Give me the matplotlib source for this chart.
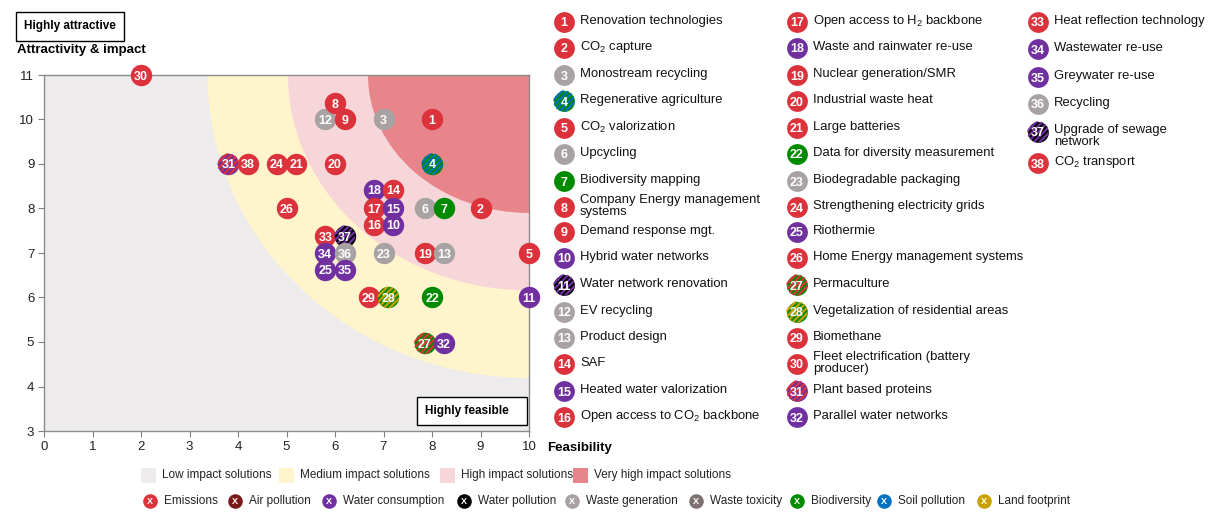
import numpy as np
import matplotlib.pyplot as plt
from matplotlib.patches import Ellipse, Rectangle, Circle
from matplotlib.lines import Line2D
from matplotlib.transforms import ScaledTranslation

plt.rcParams['font.family'] = ['Liberation Sans', 'DejaVu Sans']
plt.rcParams['mathtext.fontset'] = 'custom'
plt.rcParams['mathtext.rm'] = 'Liberation Sans'
plt.rcParams['mathtext.bf'] = 'Liberation Sans:bold'

RED = '#DC323C'
DARKRED = '#7B1A1A'
PURPLE = '#7030A0'
BLACK = '#000000'
GREY = '#A8A2A2'
TOXIC = '#7F7171'
GREEN = '#008A00'
BLUE = '#0070C0'
GOLD = '#C9A000'

# --- data ---
solutions = ['Renovation technologies', 'CO$_2$ capture', 'Monostream recycling', 'Regenerative agriculture',
             'CO$_2$ valorization', 'Upcycling', 'Biodiversity mapping', 'Company Energy management\nsystems',
             'Demand response mgt.', 'Hybrid water networks', 'Water network renovation', 'EV recycling',
             'Product design', 'SAF', 'Heated water valorization', 'Open access to CO$_2$ backbone',
             'Open access to H$_2$ backbone', 'Waste and rainwater re-use', 'Nuclear generation/SMR',
             'Industrial waste heat', 'Large batteries', 'Data for diversity measurement',
             'Biodegradable packaging', 'Strengthening electricity grids', 'Riothermie',
             'Home Energy management systems', 'Permaculture', 'Vegetalization of residential areas',
             'Biomethane', 'Fleet electrification (battery\nproducer)', 'Plant based proteins',
             'Parallel water networks', 'Heat reflection technology', 'Wastewater re-use',
             'Greywater re-use', 'Recycling', 'Upgrade of sewage\nnetwork', 'CO$_2$ transport']
feasibility = [8.0, 9.0, 7.0, 8.0, 10.0, 7.85, 8.25, 6.0, 6.2, 7.2,
               10.0, 5.8, 8.25, 7.2, 7.2, 6.8, 6.8, 6.8, 7.85, 6.0,
               5.2, 8.0, 7.0, 4.8, 5.8, 5.0, 7.85, 7.1, 6.7, 2.0,
               3.8, 8.25, 5.8, 5.8, 6.2, 6.2, 6.2, 4.2]
attractivity = [10.0, 8.0, 10.0, 9.0, 7.0, 8.0, 8.0, 10.37, 10.0, 7.63,
                6.0, 10.0, 7.0, 8.42, 8.0, 7.63, 8.0, 8.42, 7.0, 9.0,
                9.0, 6.0, 7.0, 9.0, 6.62, 8.0, 4.97, 6.0, 6.0, 11.0,
                9.0, 4.97, 7.38, 7.0, 6.62, 7.0, 7.38, 9.0]
fill = [RED, RED, GREY, GREEN, RED, GREY, GREEN, RED, RED, PURPLE,
        PURPLE, GREY, GREY, RED, PURPLE, RED, RED, PURPLE, RED, RED,
        RED, GREEN, GREY, RED, PURPLE, RED, GREEN, GREEN, RED, RED,
        PURPLE, PURPLE, RED, PURPLE, PURPLE, GREY, BLACK, RED]
stripe = [None, None, None, BLUE, None, None, None, None, None, None,
          None, None, None, None, None, None, None, None, None, None,
          None, None, None, None, None, None, RED, GOLD, None, None,
          RED, None, None, None, None, None, PURPLE, None]
# legend shows #11 differently from the chart
legend_fill = fill[:10] + [BLACK] + fill[11:]
legend_stripe = stripe[:10] + [PURPLE] + stripe[11:]

zones = ['Low impact solutions', 'Medium impact solutions', 'High impact solutions', 'Very high impact solutions']
zone_colors = ['#EDEBEC', '#FFF4CC', '#F7D6D9', '#E8858A']
zone_rx = [6.63, 4.97, 3.32]
zone_ry = [6.81, 4.84, 3.10]

impacts = ['Emissions', 'Air pollution', 'Water consumption', 'Water pollution', 'Waste generation',
           'Waste toxicity', 'Biodiversity', 'Soil pollution', 'Land footprint']
impact_colors = [RED, DARKRED, PURPLE, BLACK, GREY, TOXIC, GREEN, BLUE, GOLD]

NUMFONT = ['Liberation Sans Narrow', 'Liberation Sans']
R_IN = 0.107  # marker radius in inches

fig = plt.figure(figsize=(12.19, 5.15), dpi=100)


def add_stripes(axis, x, y, color, z):
    # diagonal stripes clipped to the marker circle, sized in inches around (x, y)
    off = fig.dpi_scale_trans + ScaledTranslation(x, y, axis.transData)
    clip = Circle((0, 0), R_IN, transform=off)
    for d in np.arange(-0.29, 0.30, 0.058):
        ln = Line2D([d - 0.15, d + 0.15], [-0.15, 0.15], transform=off, color=color, lw=1.55,
                    solid_capstyle='butt', zorder=z)
        ln.set_clip_path(clip)
        axis.add_artist(ln)


ax = fig.add_axes([44 / 1219, 84 / 515, 485 / 1219, 356 / 515])
ax.set_facecolor(zone_colors[0])
ax.set_xlim(0, 10)
ax.set_ylim(3, 11)
for rx, ry, c in zip(zone_rx, zone_ry, zone_colors[1:]):
    ax.add_patch(Ellipse((10, 11), 2 * rx, 2 * ry, facecolor=c, edgecolor='none', zorder=1))
ax.set_xticks(range(0, 11))
ax.set_yticks(range(3, 12))
ax.tick_params(length=4, color='#808080', labelsize=9.5, labelcolor='#222222', pad=3)
for s in ax.spines.values():
    s.set_color('#8C8C8C')
    s.set_linewidth(1.0)
    s.set_zorder(2)

MS = (R_IN * 2 * 72) ** 2
order = sorted(range(len(solutions)), key=lambda i: (feasibility[i], -attractivity[i]))
for k, i in enumerate(order):
    z = 5 + 3 * k
    ax.scatter(feasibility[i], attractivity[i], s=MS, color=fill[i], linewidths=0, zorder=z, clip_on=False)
    if stripe[i]:
        add_stripes(ax, feasibility[i], attractivity[i], stripe[i], z + 1)
    ax.text(feasibility[i], attractivity[i], str(i + 1), ha='center', va='center_baseline', color='white',
            fontsize=9, fontweight='bold', family=NUMFONT, zorder=z + 2, clip_on=False)
ax.set_xlim(0, 10)
ax.set_ylim(3, 11)

# overlay in pixel coordinates for annotations and legends
ov = fig.add_axes([0, 0, 1, 1], facecolor='none')
ov.set_xlim(0, 1219)
ov.set_ylim(515, 0)
ov.axis('off')

ov.add_patch(Rectangle((16, 12), 108, 29, facecolor='white', edgecolor='black', lw=1))
ov.text(70, 26.5, 'Highly attractive', ha='center', va='center', fontsize=8.5, fontweight='bold')
ov.text(17, 50, 'Attractivity & impact', ha='left', va='center', fontsize=9.5, fontweight='bold')
ov.add_patch(Rectangle((417, 397), 110, 28, facecolor='white', edgecolor='black', lw=1, zorder=50))
ov.text(467, 411, 'Highly feasible', ha='center', va='center', fontsize=8.5, fontweight='bold', zorder=51)
ov.text(547, 448, 'Feasibility', ha='left', va='center', fontsize=9.5, fontweight='bold')

col_x = [564, 797, 1038]
row_y = [22, 48, 75, 101, 128, 154, 181, 207, 232, 258, 285, 312, 338, 364, 391, 417]
col3_y = [22, 49, 77, 104, 132, 163]
LS = ((R_IN - 0.003) * 2 * 72) ** 2
for i, name in enumerate(solutions):
    if i < 32:
        cx, cy = col_x[i // 16], row_y[i % 16]
    else:
        cx, cy = col_x[2], col3_y[i - 32]
    ov.scatter(cx, cy, s=LS, color=legend_fill[i], linewidths=0, zorder=3)
    if legend_stripe[i]:
        add_stripes(ov, cx, cy, legend_stripe[i], 3.5)
    ov.text(cx, cy, str(i + 1), ha='center', va='center_baseline', color='white', fontsize=9,
            fontweight='bold', family=NUMFONT, zorder=4)
    ty = cy + (5 if '\n' in name and i > 31 else 0)
    ov.text(cx + 16, ty - 1, name, ha='left', va='center', fontsize=9.4, color='#111111', linespacing=1.05)

zone_x = [148, 286, 447, 580]
for x, c, lab in zip(zone_x, zone_colors, zones):
    ov.add_patch(Rectangle((x - 7.5, 475 - 7.5), 15, 15, facecolor=c, edgecolor='none'))
    ov.text(x + 14, 475, lab, ha='left', va='center', fontsize=8.5, color='#222222')

impact_x = [150, 235, 329, 464, 572, 696, 797, 884, 984]
for x, c, lab in zip(impact_x, impact_colors, impacts):
    ov.scatter(x, 501, s=110, color=c, linewidths=0)
    ov.text(x, 501, 'X', ha='center', va='center_baseline', color='white', fontsize=6.5, fontweight='bold')
    ov.text(x + 14, 501, lab, ha='left', va='center', fontsize=8.5, color='#222222')

ov.set_xlim(0, 1219)
ov.set_ylim(515, 0)

fig.savefig('out.png', dpi=100)
